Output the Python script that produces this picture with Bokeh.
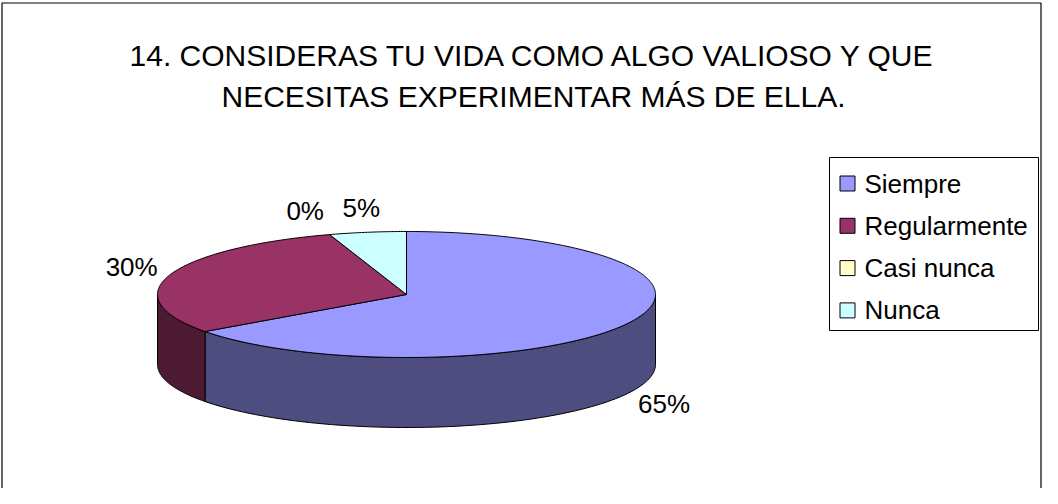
import numpy as np
from bokeh.plotting import figure
from bokeh.models import Range1d
from bokeh.core.properties import value
from bokeh.embed import file_html
from bokeh.resources import INLINE

# ---- data ----
title_lines = ["14. CONSIDERAS TU VIDA COMO ALGO VALIOSO Y QUE",
               "NECESITAS EXPERIMENTAR MÁS DE ELLA."]
categories = ["Siempre", "Regularmente", "Casi nunca", "Nunca"]
percent = [65, 30, 0, 5]
top_colors = ["#9999FF", "#993366", "#FFFFCC", "#CCFFFF"]
side_colors = ["#4D4D80", "#4D1A33", "#808066", "#668080"]

FONT = value("Liberation Sans")

# ---- layout (page pixel coordinates) ----
W, H = 1042, 488
cx, cy, a, b, depth = 414, 302, 249, 63, 70

p = figure(width=W, height=H, x_range=Range1d(8, 8 + W), y_range=Range1d(8 + H, 8),
           output_backend="svg", toolbar_location=None,
           x_axis_type=None, y_axis_type=None, min_border=0,
           background_fill_color="white", border_fill_color="white")
p.grid.visible = False
p.outline_line_color = None

# outer chart border
p.line([9.5, 9.5, 1048.5, 1048.5], [520, 10.5, 10.5, 520], line_color="black", line_width=1.2)


def pt(theta_deg, dy=0.0):
    t = np.radians(theta_deg)
    return cx + a * np.cos(t), cy - b * np.sin(t) + dy


tot = float(sum(percent))
starts, ends = [], []
cum = 0.0
for v in percent:
    t0 = 90 - 360 * cum / tot
    t1 = t0 - 360 * v / tot
    starts.append(t0)
    ends.append(t1)
    cum += v

# side walls (front half: theta in [-180, 0] mod 360)
sx, sy, sc = [], [], []
for i, v in enumerate(percent):
    if v <= 0:
        continue
    lo, hi = ends[i], starts[i]
    for k in (-1, 0, 1):
        flo, fhi = -180 + 360 * k, 0 + 360 * k
        l, h = max(lo, flo), min(hi, fhi)
        if h - l > 1e-6:
            th = np.linspace(l, h, 80)
            xt, yt = pt(th)
            xb, yb = pt(th[::-1], depth)
            sx.append(list(xt) + list(xb))
            sy.append(list(yt) + list(yb))
            sc.append(side_colors[i])
p.patches(sx, sy, fill_color=sc, line_color="black", line_width=1)

# top faces
tx, ty, tc = [], [], []
for i, v in enumerate(percent):
    if v <= 0:
        continue
    th = np.linspace(starts[i], ends[i], max(int(abs(starts[i] - ends[i]) * 1.5), 4))
    xa, ya = pt(th)
    tx.append([cx] + list(xa))
    ty.append([cy] + list(ya))
    tc.append(top_colors[i])
p.patches(tx, ty, fill_color=tc, line_color="black", line_width=1)

# data labels
lx, ly, lt = [], [], []
for i, v in enumerate(percent):
    mid = (starts[i] + ends[i]) / 2
    t = np.radians(mid)
    x0, y0 = pt(mid, depth if np.sin(t) < 0 else 0)
    lx.append(x0 + 40 * np.cos(t) - (12 if v == 0 else 0))
    ly.append(y0 - 25 * np.sin(t))
    lt.append(f"{v}%")
p.text(lx, ly, text=lt, text_font=FONT, text_font_size="26px",
       text_align="center", text_baseline="middle", text_color="black")

# title
p.text([541, 541], [63, 104], text=title_lines, text_font=FONT, text_font_size="30px",
       text_align="center", text_baseline="middle", text_color="black")

# legend
lg_x0, lg_x1, lg_y0, lg_y1 = 837, 1046, 165, 338
p.quad(left=[lg_x0], right=[lg_x1], top=[lg_y0], bottom=[lg_y1],
       fill_color="white", line_color="black", line_width=1)
rows = [191 + 42.3 * i for i in range(len(categories))]
p.rect([855] * len(categories), rows, width=15, height=15,
       fill_color=top_colors, line_color="black", line_width=1)
p.text([872] * len(categories), rows, text=categories, text_font=FONT,
       text_font_size="26px", text_align="left", text_baseline="middle",
       text_color="black")

open("out.html", "w").write(file_html(p, INLINE))
